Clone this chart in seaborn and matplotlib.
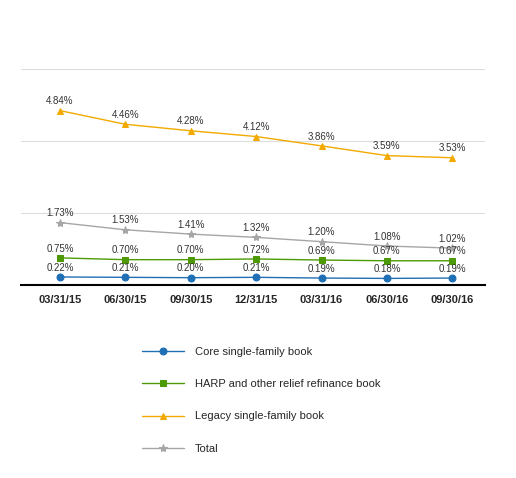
import matplotlib
matplotlib.use("Agg")
import matplotlib.pyplot as plt
import seaborn as sns
import pandas as pd

dates = ["03/31/15","06/30/15","09/30/15","12/31/15","03/31/16","06/30/16","09/30/16"]
core = [0.22,0.21,0.20,0.21,0.19,0.18,0.19]
harp = [0.75,0.70,0.70,0.72,0.69,0.67,0.67]
legacy = [4.84,4.46,4.28,4.12,3.86,3.59,3.53]
total = [1.73,1.53,1.41,1.32,1.20,1.08,1.02]
names = ["Core single-family book","HARP and other relief refinance book","Legacy single-family book","Total"]
colors = ["#1f6fb5","#4e9a06","#f2a900","#a6a6a6"]
markers = ["o","s","^","*"]

sns.set_style("white")
plt.rcParams['font.family'] = ['Liberation Sans','DejaVu Sans']
fig = plt.figure(figsize=(5.16,4.78), dpi=100)
ax = fig.add_axes([0.04, 0.404, 0.90, 0.452])
x = list(range(len(dates)))
for vals, n, c, m in zip([core,harp,legacy,total], names, colors, markers):
    df = pd.DataFrame({"x": x, "y": vals})
    sns.lineplot(data=df, x="x", y="y", ax=ax, color=c, marker=m, markersize=5 if m!="*" else 6,
                 markeredgecolor=c, linewidth=1, label=n)
    for xi, v in zip(x, vals):
        ax.text(xi, v+0.12, f"{v:.2f}%", ha="center", va="bottom", fontsize=7, color="#333333")
ax.set_ylim(0, 6)
ax.set_xlim(-0.6, 6.5)
ax.set_yticks([2,4,6])
ax.set_yticklabels([])
ax.tick_params(left=False)
ax.grid(axis="y", color="#dddddd", linewidth=0.8)
for s in ["top","right","left"]:
    ax.spines[s].set_visible(False)
ax.spines["bottom"].set_color("black")
ax.spines["bottom"].set_linewidth(1.5)
ax.set_xticks(x)
ax.set_xticklabels(dates, fontsize=8, fontweight="bold")
ax.set_xlabel(""); ax.set_ylabel("")
h, l = ax.get_legend_handles_labels()
ax.legend_.remove()
fig.legend(h, l, loc="upper left", bbox_to_anchor=(0.255, 0.295), frameon=False,
           fontsize=8, labelspacing=2.0, handlelength=3.8, handletextpad=1.0)
fig.savefig("out.png", dpi=100)
